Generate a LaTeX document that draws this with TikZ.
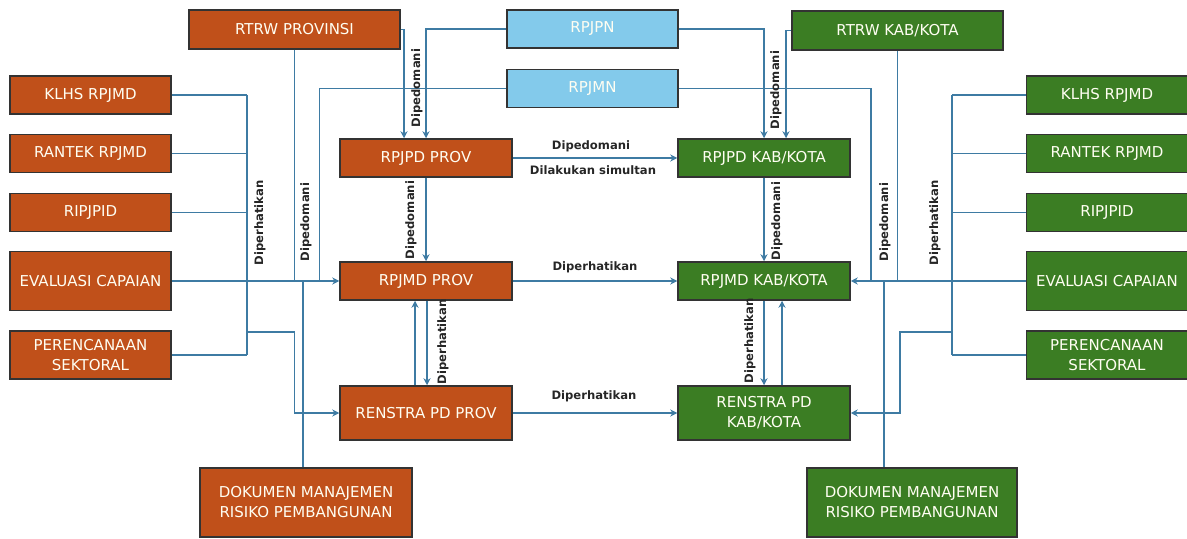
\documentclass[tikz,border=0pt]{standalone}
\usepackage{fontspec}
\setmainfont{DejaVu Sans}
\usepackage{xcolor}
\usetikzlibrary{arrows.meta}
\definecolor{provorange}{HTML}{C0501A}
\definecolor{kabgreen}{HTML}{3B7D23}
\definecolor{nasblue}{HTML}{83CAEB}
\definecolor{linkblue}{HTML}{3E7BA3}
\begin{document}
\begin{tikzpicture}[
    x=0.5pt, y=-0.5pt,
    box/.style={rectangle, draw=black!80, line width=0.75pt, text=white!95!yellow, align=center, inner sep=1pt, font=\fontsize{7.5}{10}\selectfont},
    prov/.style={box, fill=provorange},
    kab/.style={box, fill=kabgreen},
    nas/.style={box, fill=nasblue, minimum width=85.5pt, minimum height=19pt},
    side/.style={minimum width=80.5pt, minimum height=19pt},
    mid/.style={minimum width=86pt, minimum height=19pt},
    ln/.style={draw=linkblue, line width=0.75pt},
    arr/.style={ln, -{Stealth[length=3.5pt, width=3.5pt]}},
    lbl/.style={font=\fontsize{5.8}{7}\selectfont\bfseries, text=black!85, inner sep=0pt},
    vlbl/.style={lbl, rotate=90}
]
\useasboundingbox (0,0) rectangle (1187,539);

% national level
\node[nas] (rpjpn) at (592.5,29) {RPJPN};
\node[nas] (rpjmn) at (592.5,88.5) {RPJMN};

% province side
\node[prov, minimum width=105.5pt, minimum height=19.5pt] (rtrwP) at (294.5,29.5) {RTRW PROVINSI};
\node[prov, side] (klhsL) at (90.5,95) {KLHS RPJMD};
\node[prov, side] (rantekL) at (90.5,153.5) {RANTEK RPJMD};
\node[prov, side] (ripL) at (90.5,212.5) {RIPJPID};
\node[prov, side, minimum height=29.5pt] (evalL) at (90.5,281) {EVALUASI CAPAIAN};
\node[prov, side, minimum height=24pt] (perL) at (90.5,355) {PERENCANAAN\\SEKTORAL};
\node[prov, mid] (rpjpdP) at (426,158) {RPJPD PROV};
\node[prov, mid] (rpjmdP) at (426,281) {RPJMD PROV};
\node[prov, mid, minimum height=27pt] (renP) at (426,413) {RENSTRA PD PROV};
\node[prov, minimum width=106pt, minimum height=34.5pt] (dokP) at (306,502.5) {DOKUMEN MANAJEMEN\\RISIKO PEMBANGUNAN};

% kab/kota side
\node[kab, minimum width=105.5pt, minimum height=19.5pt] (rtrwK) at (897.5,30.5) {RTRW KAB/KOTA};
\node[kab, side] (klhsR) at (1107,95) {KLHS RPJMD};
\node[kab, side] (rantekR) at (1107,153.5) {RANTEK RPJMD};
\node[kab, side] (ripR) at (1107,212.5) {RIPJPID};
\node[kab, side, minimum height=29.5pt] (evalR) at (1107,281) {EVALUASI CAPAIAN};
\node[kab, side, minimum height=24pt] (perR) at (1107,355) {PERENCANAAN\\SEKTORAL};
\node[kab, mid] (rpjpdK) at (764,158) {RPJPD KAB/KOTA};
\node[kab, mid] (rpjmdK) at (764,281) {RPJMD KAB/KOTA};
\node[kab, mid, minimum height=27pt] (renK) at (764,413) {RENSTRA PD\\KAB/KOTA};
\node[kab, minimum width=105pt, minimum height=34.5pt] (dokK) at (912,502.5) {DOKUMEN MANAJEMEN\\RISIKO PEMBANGUNAN};

% left bus
\coordinate (busL) at (247,0);
\coordinate (kneeL) at (294.5,332);
\foreach \n in {klhsL,rantekL,ripL,perL}
    \draw[ln] (\n.east) -- (\n.east -| busL);
\draw[ln] (klhsL.east -| busL) -- (perL.east -| busL);
\draw[arr] (evalL.east) -- (rpjmdP.west);
\draw[arr] (busL |- kneeL) -- (kneeL) |- (renP.west);
\draw[ln] (rtrwP.south) -- (rtrwP.south |- rpjmdP.west);
\draw[ln] (rpjmn.west) -| ([xshift=-10pt]rpjmdP.west);
\draw[ln] ([xshift=-1.5pt]dokP.north) -- ([xshift=-1.5pt]dokP.north |- rpjmdP.west);

% right bus
\coordinate (busR) at (952,0);
\coordinate (kneeR) at (900,332);
\foreach \n in {klhsR,rantekR,ripR,perR}
    \draw[ln] (\n.west) -- (\n.west -| busR);
\draw[ln] (klhsR.west -| busR) -- (perR.west -| busR);
\draw[arr] (evalR.west) -- (rpjmdK.east);
\draw[arr] (busR |- kneeR) -- (kneeR) |- (renK.east);
\draw[ln] (rtrwK.south) -- (rtrwK.south |- rpjmdK.east);
\draw[ln] (rpjmn.east) -| ([xshift=10pt]rpjmdK.east);
\draw[ln] ([xshift=-14pt]dokK.north) -- ([xshift=-14pt]dokK.north |- rpjmdK.east);

% centre
\draw[arr] (rpjpn.west) -| (rpjpdP.north);
\draw[arr] (rtrwP.east) -| ([xshift=-11pt]rpjpdP.north);
\draw[arr] (rpjpn.east) -| (rpjpdK.north);
\draw[arr] (rtrwK.west) -| ([xshift=11pt]rpjpdK.north);
\draw[arr] (rpjpdP.east) -- (rpjpdK.west);
\draw[arr] (rpjpdP.south) -- (rpjmdP.north);
\draw[arr] (rpjpdK.south) -- (rpjmdK.north);
\draw[arr] (rpjmdP.east) -- (rpjmdK.west);
\draw[arr] (renP.east) -- (renK.west);
\draw[arr] ([xshift=0.5pt]rpjmdP.south) -- ([xshift=0.5pt]renP.north);
\draw[arr] ([xshift=-5.5pt]renP.north) -- ([xshift=-5.5pt]rpjmdP.south);
\draw[arr] (rpjmdK.south) -- (renK.north);
\draw[arr] ([xshift=9pt]renK.north) -- ([xshift=9pt]rpjmdK.south);

% labels
\node[vlbl] (tDiperL) at (260,223) {Diperhatikan};
\node[vlbl] (tDipedL) at (306,222) {Dipedomani};
\node[vlbl] (tDipedTopP) at (417,88) {Dipedomani};
\node[vlbl] (tDipedP) at (411,220) {Dipedomani};
\node[vlbl] (tDiperP) at (443,342) {Diperhatikan};
\node[lbl] (tDipedMid) at (591,146) {Dipedomani};
\node[lbl] (tSimultan) at (593,170) {Dilakukan simultan};
\node[lbl] (tDiperMid) at (595,267) {Diperhatikan};
\node[lbl] (tDiperRen) at (594,396) {Diperhatikan};
\node[vlbl] (tDipedTopK) at (776,90) {Dipedomani};
\node[vlbl] (tDipedK) at (777,221) {Dipedomani};
\node[vlbl] (tDiperK) at (750,341) {Diperhatikan};
\node[vlbl] (tDipedR) at (885,222) {Dipedomani};
\node[vlbl] (tDiperR) at (935,223) {Diperhatikan};
\end{tikzpicture}
\end{document}
